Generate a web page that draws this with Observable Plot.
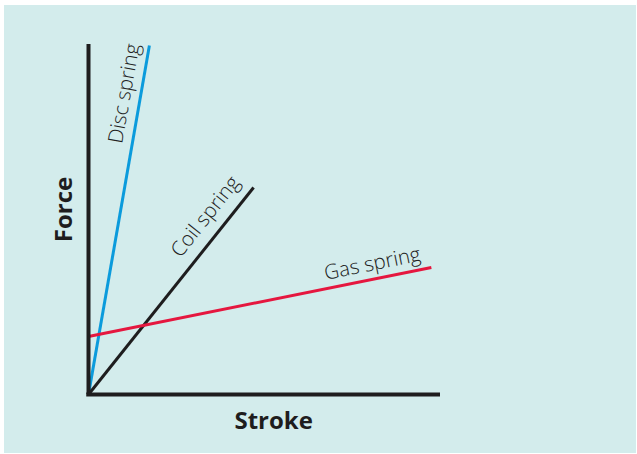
<!DOCTYPE html>
<html>
<head>
<meta charset="utf-8">
<script src="https://cdn.jsdelivr.net/npm/d3@7"></script>
<script src="https://cdn.jsdelivr.net/npm/@observablehq/plot@0.6"></script>
<style>
  html, body { margin: 0; padding: 0; background: #ffffff; }
  #chart svg { display: block; box-shadow: inset 4px 5px 0 0 #ffffff, inset -1px -1px 0 0 #ffffff; }
</style>
</head>
<body>
<div id="chart"></div>
<script>
// Series: name, start point, end point (arbitrary units 0-100)
const series = ["Disc spring", "Coil spring", "Gas spring"];
const x0 = [0, 0, 0];
const y0 = [0, 0, 16.6];
const x1 = [17.3, 46.9, 97.4];
const y1 = [100, 59.3, 36.4];
const colors = ["#0b9bdc", "#1e1d1e", "#e5173f"];
const labelX = [12.0, 34.7, 81];
const labelY = [85.9, 49.8, 35.6];
const labelAngle = [-80, -51.5, -11.4];
const xLabel = "Stroke";
const yLabel = "Force";

const lines = series.map((s, i) => ({name: s, x1: x0[i], y1: y0[i], x2: x1[i], y2: y1[i], color: colors[i]}));
const labels = series.map((s, i) => ({name: s, x: labelX[i], y: labelY[i], angle: labelAngle[i]}));

const chart = Plot.plot({
  width: 637,
  height: 454,
  marginLeft: 88,
  marginRight: 197,
  marginTop: 45,
  marginBottom: 60,
  x: {domain: [0, 100], axis: null},
  y: {domain: [0, 100], axis: null},
  style: {background: "#d3ecec", fontFamily: "Open Sans, Lato, sans-serif"},
  marks: [
    Plot.link(lines, {x1: "x1", y1: "y1", x2: "x2", y2: "y2", stroke: d => d.color, strokeWidth: 3}),
    Plot.ruleX([0], {y1: 0, y2: 100.3, stroke: "#1e1d1e", strokeWidth: 4}),
    Plot.ruleY([0], {x1: -0.5, x2: 100, stroke: "#1e1d1e", strokeWidth: 4}),
    ...labels.map(l => Plot.text([l], {x: "x", y: "y", text: "name", rotate: l.angle, fontSize: 20.5, fontWeight: 300, fill: "#222", textAnchor: "middle", lineAnchor: "bottom"})),
    Plot.text([xLabel], {x: 52.6, y: 0, dy: 27, text: d => d, fontSize: 24, fontWeight: "bold", fill: "#1e1d1e", lineAnchor: "middle"}),
    Plot.text([yLabel], {x: -7, y: 53, text: d => d, rotate: -90, fontSize: 24, fontWeight: "bold", fill: "#1e1d1e", lineAnchor: "middle"})
  ]
});
document.getElementById("chart").appendChild(chart);
</script>
</body>
</html>
